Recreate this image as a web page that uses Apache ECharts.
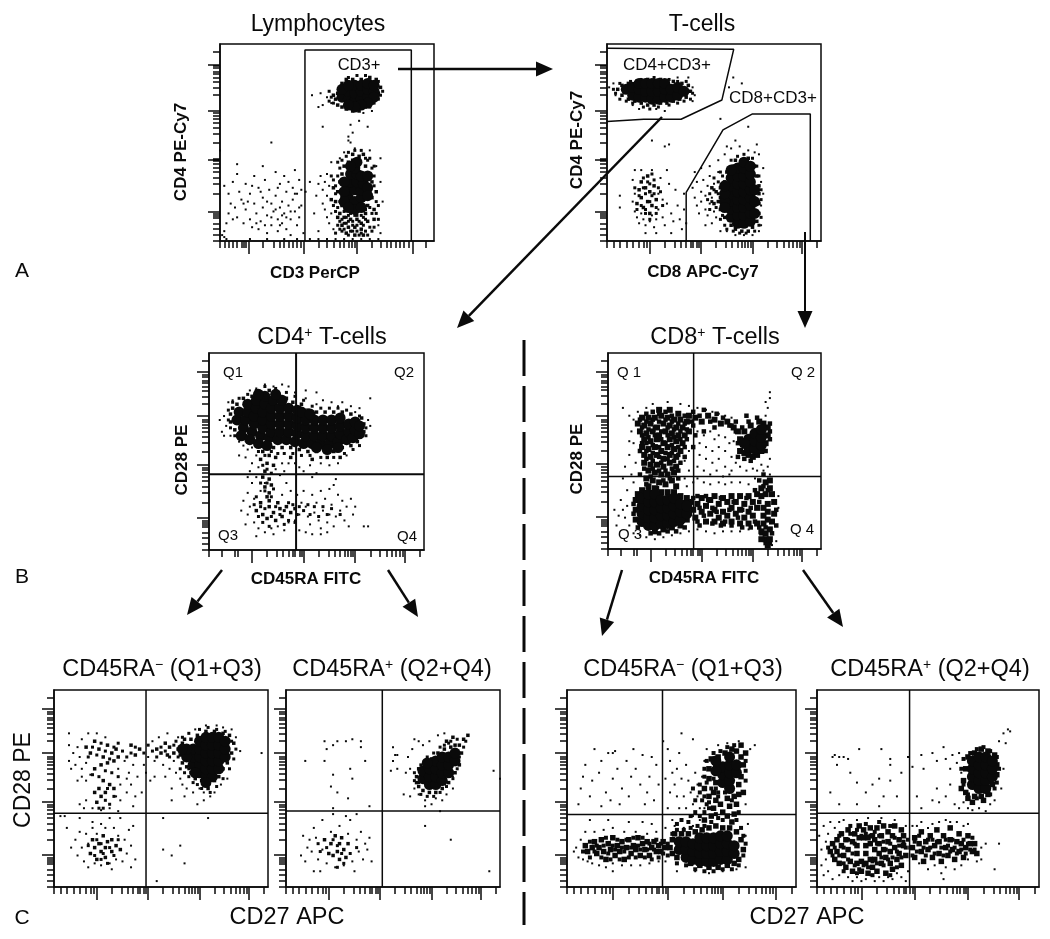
<!DOCTYPE html>
<html>
<head>
<meta charset="utf-8">
<title>T-cell gating</title>
<script src="https://cdn.jsdelivr.net/npm/echarts@6/dist/echarts.min.js"></script>
<style>
html, body { margin: 0; padding: 0; background: #fff; }
#main { width: 1050px; height: 939px; }
</style>
</head>
<body>
<div id="main"></div>
<script>

// Lymphocytes
const p1Core = [[57,73],[60,72],[60,76],[63,71],[63,75],[63,79],[66,72],[66,76],[66,79],[69,73],[69,77],[69,80],[72,76],[72,79],[57,77],[60,79],[72,73],[69,70],[66,69],[63,68],[60,69],[60,22],[63,20],[66,22],[60,26],[63,26],[66,26],[61,30],[64,30],[67,29],[61,34],[64,34],[66,33],[63,37],[58,30],[58,25],[69,33],[69,27],[69,23],[58,20],[63,16],[66,17],[60,17],[64,40],[61,38]];
const p1Mid = [[56,30],[57,34],[55,25],[57,22],[58,38],[60,40],[62,41],[65,40],[68,38],[70,34],[71,30],[70,26],[71,22],[69,18],[68,14],[65,16],[62,15],[59,16],[57,18],[56,14],[58,12],[61,11],[64,11],[66,9],[69,10],[72,11],[60,7],[63,7],[66,6],[57,8],[55,12],[63,3],[67,3],[59,4],[72,16],[73,25],[62,44],[65,43],[67,44],[53,27],[52,21],[54,20],[54,72],[55,69],[57,68],[59,67],[62,66],[65,66],[68,68],[71,70],[74,75],[75,78],[73,82],[70,83],[66,82],[62,82],[59,82],[57,80],[55,75],[53,74]];
const p1Fill = [[55,33],[56,37],[57,41],[59,43],[69,41],[71,37],[72,33],[72,28],[73,20],[71,14],[70,17],[68,16],[66,13],[63,13],[61,14],[58,15],[56,20],[55,17],[54,15],[56,10],[58,9],[60,13],[62,10],[64,8],[68,11],[70,7],[71,5],[68,5],[65,3],[62,5],[59,9],[57,5],[55,8],[54,4],[60,3],[64,5],[67,8],[72,7],[54,24],[53,31],[55,40],[56,6],[61,5],[66,4],[69,3],[73,14],[74,18],[74,11],[58,6],[65,10],[60,10],[67,12],[62,8],[64,13],[59,12],[57,11],[54,28],[52,33],[53,18],[72,38],[70,42],[66,46],[63,46],[60,45],[68,42],[51,71],[52,73],[53,70],[51,76],[75,74],[74,72],[72,70],[70,68],[76,76],[74,81],[68,84],[64,84],[60,83]];
const p1Dots = [[2,28],[4,24],[5,19],[4,14],[6,30],[7,17],[8,12],[9,25],[8,34],[10,21],[11,9],[12,16],[12,29],[14,24],[14,11],[15,7],[16,19],[16,33],[17,14],[18,27],[18,6],[19,10],[20,22],[20,17],[21,31],[22,13],[22,4],[23,26],[24,8],[24,19],[25,15],[26,35],[26,23],[27,11],[27,5],[28,29],[28,17],[29,20],[29,9],[30,33],[30,14],[31,25],[31,6],[32,18],[32,30],[33,11],[33,3],[34,21],[34,27],[35,36],[35,15],[36,8],[36,24],[37,12],[37,31],[38,18],[39,4],[38,26],[3,9],[2,5],[1,3],[2,2],[3,1],[20,38],[8,39],[24,50],[0,46],[45,23],[46,29],[44,14],[47,33],[48,19],[48,26],[49,16],[49,30],[50,23],[50,12],[51,28],[51,9],[52,14],[50,34],[46,5],[53,6],[42,30],[40,25],[47,75],[43,74],[48,69],[46,68],[50,73],[52,70],[61,59],[65,61],[69,58],[60,53],[48,58],[62,55],[61,50],[63,47],[60,51],[67,65],[71,66],[75,42],[75,30],[76,20],[74,8],[75,4],[56,42],[58,45],[70,46],[73,38],[52,40],[42,1],[46,1],[50,1],[54,1],[58,1],[62,1],[66,1],[70,1],[74,1],[22,1],[14,1],[30,1],[36,1],[13,20],[15,28],[19,25],[22,20],[26,16],[27,27],[31,12],[24,12],[17,9],[11,19],[6,11],[33,15],[35,24],[37,17],[21,8],[28,8],[29,13]];
const p1Gates = [[[39.7,0],[39.7,97],[89.4,97],[89.4,0]]];

// T-cells
const p2Core = [[9,77],[12,74],[12,78],[15,73],[15,77],[15,80],[18,73],[18,76],[18,80],[21,72],[21,76],[21,80],[24,72],[24,76],[24,80],[27,73],[27,77],[27,80],[30,73],[30,77],[33,74],[33,78],[36,76],[58,12],[58,16],[58,20],[58,24],[58,28],[58,32],[61,9],[61,13],[61,17],[61,21],[61,25],[61,29],[61,33],[61,37],[64,9],[64,13],[64,17],[64,21],[64,25],[64,29],[64,33],[64,37],[67,10],[67,14],[67,18],[67,22],[67,26],[67,30],[67,34],[55,20],[55,24],[55,17],[55,28],[69,20],[69,26],[69,14],[58,36],[64,40],[67,38]];
const p2Mid = [[5,77],[7,74],[7,79],[10,72],[13,71],[16,70],[19,69],[22,69],[25,70],[28,70],[31,71],[34,72],[37,73],[39,76],[38,79],[35,80],[31,81],[25,82],[19,82],[14,81],[10,80],[53,22],[53,27],[53,16],[55,12],[55,30],[56,35],[59,38],[60,41],[63,41],[66,42],[69,38],[70,33],[71,28],[71,24],[71,19],[71,14],[70,10],[68,7],[66,5],[63,5],[60,6],[58,8],[51,25],[52,20],[50,19],[49,27],[16,30],[18,27],[20,25],[16,22],[19,20],[21,18],[17,17],[20,14],[22,28],[15,26],[23,21],[19,33],[14,19]];
const p2Fill = [[4,75],[3,77],[6,72],[9,71],[12,70],[17,68],[20,67],[24,68],[29,69],[33,70],[36,71],[39,72],[40,75],[37,81],[33,81],[29,82],[22,83],[16,82],[11,81],[6,80],[17,27],[18,24],[20,29],[21,23],[15,23],[14,16],[16,18],[18,16],[20,20],[22,24],[23,17],[24,27],[17,32],[19,30],[21,34],[18,14],[20,11],[23,14],[25,25],[26,18],[13,27],[22,31],[48,24],[49,20],[50,26],[51,17],[52,30],[52,24],[50,32],[54,13],[53,11],[55,8],[54,33],[53,35],[56,6],[59,5],[62,4],[65,4],[69,5],[71,8],[72,12],[72,21],[72,26],[71,33],[70,38],[68,42],[64,44],[61,43],[58,41],[48,16],[47,21]];
const p2Dots = [[3,80],[1,78],[4,74],[40,78],[41,74],[40,71],[38,83],[33,83],[12,69],[23,67],[27,66],[15,67],[12,31],[13,24],[12,20],[13,15],[14,12],[15,9],[16,14],[17,11],[18,8],[20,10],[21,13],[22,7],[23,11],[24,16],[24,24],[25,32],[26,21],[26,12],[27,8],[28,19],[29,29],[30,14],[31,10],[28,36],[32,26],[33,18],[34,11],[36,16],[36,24],[35,6],[37,9],[30,4],[23,4],[18,4],[6,23],[6,17],[13,36],[21,36],[16,36],[40,27],[41,22],[42,18],[42,30],[43,14],[44,25],[44,20],[45,31],[46,16],[46,23],[47,28],[47,13],[48,19],[48,33],[49,22],[50,29],[50,15],[51,12],[41,35],[44,37],[48,38],[52,35],[52,41],[55,44],[58,47],[62,48],[66,46],[69,45],[70,49],[56,48],[60,51],[72,30],[72,18],[72,8],[71,5],[73,24],[68,3],[64,3],[60,3],[56,5],[53,5],[49,9],[46,8],[71,44],[73,37],[57,78],[59,83],[63,80],[66,58],[53,62],[27,48],[29,49],[21,51]];
const p2Gates = [[[0,97.8],[59.2,97.3],[53.7,71.6],[34.6,61.8],[17.1,61.8],[0,60.6]],[[37,0],[37,24.7],[54.2,56.4],[68,64.5],[95,64.5],[95,0]]];

// CD4+ T-cells
const p3Core = [[13,66],[14,70],[16,62],[17,66],[18,70],[18,74],[20,60],[21,64],[21,68],[22,72],[22,76],[24,58],[25,62],[25,66],[25,70],[26,74],[26,78],[28,57],[29,60],[29,64],[29,68],[29,72],[30,76],[32,56],[33,60],[33,64],[33,68],[33,72],[34,76],[36,56],[37,60],[37,64],[37,68],[37,72],[40,55],[41,59],[41,63],[41,67],[41,71],[44,54],[45,58],[45,62],[45,66],[48,54],[49,58],[49,62],[49,66],[52,54],[53,58],[53,62],[53,66],[56,54],[57,58],[57,62],[57,66],[60,55],[61,59],[61,63],[61,67],[64,56],[65,60],[65,64],[67,57],[68,61],[68,65],[70,59],[70,63],[15,58],[19,56],[23,54],[27,53],[43,70],[47,69],[50,52],[55,51],[60,52],[31,79],[23,79]];
const p3Mid = [[11,72],[10,69],[10,65],[12,61],[14,59],[17,58],[20,56],[23,55],[27,53],[30,52],[34,52],[38,52],[42,51],[46,50],[50,50],[54,50],[58,50],[62,52],[66,53],[69,55],[72,60],[72,64],[71,67],[66,69],[62,70],[58,70],[54,70],[50,70],[46,71],[43,74],[39,75],[36,77],[32,79],[28,81],[24,80],[20,78],[16,77],[13,74],[25,50],[28,48],[31,47],[24,46],[27,44],[30,43],[26,40],[25,37],[28,36],[29,33],[26,32],[28,29],[27,27],[38,47],[48,46],[55,47],[61,47],[22,20],[25,18],[28,22],[30,19],[33,21],[27,16],[31,15],[34,17],[36,22],[38,19],[40,21],[24,24],[28,25],[32,24]];
const p3Fill = [[23,50],[26,48],[29,50],[32,49],[35,49],[39,49],[43,48],[47,48],[52,47],[58,47],[63,49],[67,51],[70,53],[73,58],[73,62],[70,68],[64,71],[60,72],[56,72],[52,72],[48,73],[44,76],[40,78],[36,80],[31,82],[26,83],[22,81],[18,79],[14,77],[11,75],[9,71],[9,66],[10,62],[12,58],[25,43],[27,41],[29,39],[24,34],[27,34],[26,30],[29,27],[30,31],[22,27],[24,22],[26,21],[29,17],[31,22],[33,18],[35,20],[37,24],[37,15],[39,23],[41,18],[40,14],[25,14],[28,12],[23,17],[21,23],[35,13],[42,22],[44,20],[46,23],[49,22],[53,22],[57,21],[61,18],[47,18],[51,17],[55,18]];
const p3Dots = [[5,66],[6,60],[8,63],[7,68],[9,75],[11,76],[7,58],[10,58],[14,55],[16,53],[18,51],[20,52],[22,48],[17,47],[14,48],[20,44],[23,42],[19,40],[22,37],[18,37],[31,41],[34,44],[37,44],[35,40],[33,38],[40,44],[42,42],[44,40],[47,43],[52,44],[56,43],[60,44],[64,48],[50,39],[48,37],[30,83],[26,84],[22,82],[19,81],[34,84],[37,83],[40,80],[45,77],[50,74],[53,76],[57,75],[60,73],[62,75],[66,73],[68,70],[70,72],[75,77],[50,80],[45,81],[74,66],[75,63],[20,34],[26,34],[24,30],[18,29],[16,25],[19,22],[21,14],[18,18],[17,13],[23,11],[26,9],[29,11],[32,12],[35,10],[37,14],[40,15],[42,18],[43,24],[45,22],[46,17],[47,13],[49,19],[50,24],[51,15],[52,11],[53,20],[54,26],[55,14],[56,18],[57,23],[58,12],[59,17],[60,28],[61,20],[62,25],[63,15],[64,22],[65,12],[66,26],[67,18],[68,22],[42,10],[45,9],[48,8],[52,8],[55,9],[58,33],[56,31],[59,36],[38,30],[41,28],[44,30],[48,28],[52,30],[34,28],[36,34],[21,26],[15,20],[22,7],[30,8],[72,12],[74,12]];
const p3Gates = [[[0,38.5],[100,38.5]],[[40.5,0],[40.5,100]]];

// CD8+ T-cells
const p4Core = [[16,14],[16,18],[16,22],[16,26],[19,12],[19,16],[19,20],[19,24],[19,28],[22,12],[22,16],[22,20],[22,24],[22,28],[25,13],[25,17],[25,21],[25,25],[28,13],[28,17],[28,21],[28,25],[31,14],[31,18],[31,22],[31,26],[34,15],[34,19],[34,23],[37,18],[37,22],[66,52],[66,56],[69,51],[69,55],[69,59],[72,53],[72,57],[72,61],[64,54]];
const p4Mid = [[13,15],[13,20],[13,25],[14,28],[16,30],[19,32],[22,31],[25,29],[28,29],[31,29],[34,27],[37,26],[39,24],[40,20],[41,16],[37,15],[34,12],[30,11],[26,10],[22,9],[42,23],[44,19],[44,26],[46,14],[46,22],[48,18],[48,25],[50,14],[50,27],[52,16],[52,23],[54,13],[54,26],[56,17],[56,24],[58,14],[58,27],[60,18],[60,24],[62,13],[62,27],[64,16],[64,23],[66,13],[66,27],[68,17],[68,24],[70,13],[70,21],[70,28],[72,9],[74,8],[76,10],[77,14],[78,18],[78,24],[77,28],[76,31],[74,28],[72,27],[72,31],[74,34],[76,35],[74,5],[76,5],[75,2],[72,5],[18,36],[21,35],[24,34],[27,33],[30,35],[32,32],[19,40],[22,39],[25,38],[28,38],[31,39],[17,44],[20,43],[23,43],[26,42],[29,44],[32,42],[17,48],[20,47],[23,48],[26,46],[29,48],[32,47],[16,52],[19,51],[22,52],[25,50],[28,52],[31,51],[34,50],[17,56],[20,55],[23,56],[26,54],[29,56],[32,55],[35,54],[15,60],[18,59],[21,60],[24,58],[27,60],[30,59],[33,58],[36,58],[14,64],[17,63],[20,64],[23,62],[26,64],[29,63],[32,62],[35,62],[38,60],[16,67],[19,67],[22,67],[25,68],[28,67],[31,66],[34,66],[37,65],[24,71],[29,71],[33,69],[38,68],[41,67],[44,65],[47,68],[50,66],[53,64],[56,65],[59,62],[61,60],[62,56],[62,50],[64,49],[66,48],[68,47],[70,48],[72,50],[74,54],[75,58],[75,62],[73,64],[71,65],[67,63],[64,60],[73,13],[73,17],[73,21],[75,15],[75,19],[75,23],[50,20],[54,19],[58,21],[62,20],[66,19]];
const p4Fill = [[18,33],[20,37],[23,31],[26,35],[29,36],[33,36],[15,38],[17,41],[21,41],[24,40],[27,40],[30,41],[33,40],[18,46],[21,45],[25,44],[28,46],[31,45],[34,44],[15,50],[18,50],[21,49],[24,47],[27,49],[30,49],[33,48],[36,47],[16,54],[18,54],[21,53],[24,52],[27,54],[30,53],[33,52],[36,52],[16,58],[19,57],[22,58],[25,56],[28,58],[31,57],[34,56],[37,56],[16,62],[19,61],[22,62],[25,60],[28,62],[31,61],[34,60],[37,61],[40,63],[15,66],[18,65],[21,66],[24,65],[27,66],[30,65],[33,64],[36,64],[39,65],[18,69],[21,70],[24,69],[27,70],[30,68],[36,68],[40,70],[43,68],[45,71],[48,65],[51,69],[54,67],[57,63],[60,65],[43,21],[45,17],[47,25],[49,21],[51,19],[53,26],[55,14],[57,20],[59,24],[61,16],[63,20],[65,26],[67,21],[69,14],[71,24],[46,27],[49,13],[53,12],[58,12],[63,11],[67,11],[71,11],[69,30],[71,35],[73,32],[75,30],[73,38],[72,8],[74,11],[77,8],[76,3],[79,12],[79,20],[74,3],[42,27],[40,26],[42,14],[43,12],[36,11],[32,9],[28,9],[24,8],[20,8],[14,11],[12,18],[12,23],[63,53],[61,54],[61,47],[64,46],[67,45],[74,50],[76,56],[76,60],[76,64],[70,67],[66,65],[63,62],[60,60],[58,63],[65,68],[50,62],[45,60],[41,58],[40,52]];
const p4Dots = [[7,36],[8,42],[9,30],[10,48],[11,38],[12,54],[11,60],[10,55],[12,34],[13,44],[9,22],[8,16],[7,20],[5,17],[10,12],[12,8],[15,7],[18,6],[22,5],[26,6],[30,7],[34,8],[38,9],[42,10],[46,9],[50,8],[54,9],[58,9],[62,9],[66,10],[14,70],[12,66],[18,72],[21,74],[28,75],[34,74],[38,73],[42,72],[46,71],[49,70],[52,69],[55,68],[58,67],[10,68],[7,72],[42,60],[45,58],[48,60],[50,56],[52,58],[55,57],[57,54],[59,55],[43,54],[46,52],[49,50],[52,52],[55,50],[58,47],[60,44],[43,48],[46,46],[49,44],[52,46],[55,42],[58,40],[42,42],[45,40],[48,38],[51,40],[54,37],[57,38],[62,42],[65,40],[68,41],[70,40],[72,43],[42,36],[45,34],[48,33],[52,34],[55,33],[58,34],[62,34],[66,33],[69,36],[36,36],[38,40],[36,45],[38,50],[40,34],[37,32],[73,40],[76,38],[75,42],[76,46],[74,68],[75,72],[76,77],[74,75],[76,80],[6,25],[4,12],[3,20],[79,4],[77,2],[80,21],[80,27]];
const p4Gates = [[[0,37],[100,37]],[[40.2,0],[40.2,100]]];

// CD45RA- (Q1+Q3), CD4
const p5Core = [[65,62],[65,66],[65,70],[68,58],[68,62],[68,66],[68,70],[68,74],[71,56],[71,60],[71,64],[71,68],[71,72],[71,76],[74,56],[74,60],[74,64],[74,68],[74,72],[74,76],[77,60],[77,64],[77,68],[77,72],[77,76],[80,66],[80,70],[80,74],[62,66],[62,70],[60,70],[66,58],[71,53]];
const p5Mid = [[58,70],[59,67],[60,73],[60,63],[62,61],[64,58],[66,55],[69,54],[72,50],[75,54],[77,56],[79,60],[81,63],[83,68],[84,73],[82,77],[79,78],[75,79],[71,79],[67,77],[64,75],[61,75],[56,68],[54,71],[53,67],[52,73],[50,68],[48,70],[15,71],[17,68],[19,74],[21,70],[23,66],[25,72],[27,68],[29,70],[22,62],[25,63],[28,64],[30,66],[19,60],[40,70],[38,67],[36,72],[23,54],[21,50],[19,48],[22,46],[20,43],[24,48],[26,52],[28,50],[24,20],[22,18],[25,23],[21,22],[24,15],[27,18],[19,20],[27,24],[17,17],[29,21],[23,26],[18,24],[20,14],[31,19]];
const p5Fill = [[16,66],[18,71],[20,67],[22,73],[24,69],[26,65],[28,71],[30,73],[32,69],[34,66],[36,68],[38,71],[42,68],[44,72],[46,69],[48,66],[50,71],[52,69],[54,66],[56,72],[58,66],[18,57],[21,56],[24,59],[27,58],[30,56],[24,44],[26,42],[28,46],[23,40],[21,40],[25,50],[20,24],[22,22],[26,20],[28,16],[25,12],[22,14],[30,24],[23,17],[19,16],[16,21],[63,56],[65,53],[67,52],[69,50],[73,48],[76,51],[79,55],[82,60],[84,65],[85,70],[83,74],[80,79],[76,80],[72,81],[68,80],[63,78],[60,76],[57,74],[63,60],[61,58],[59,60]];
const p5Dots = [[7,78],[7,72],[7,64],[9,68],[11,71],[12,66],[13,75],[16,78],[20,78],[24,76],[10,62],[8,60],[13,60],[15,63],[13,56],[11,54],[15,54],[17,57],[30,60],[33,64],[35,58],[31,52],[34,55],[37,62],[39,56],[29,46],[31,44],[34,48],[36,52],[38,46],[41,48],[12,42],[15,44],[18,40],[22,39],[26,40],[30,38.5],[14,40],[37,41],[42,62],[44,66],[46,74],[47,64],[49,76],[51,62],[53,78],[54,60],[56,64],[58,76],[57,58],[59,55],[60,52],[62,50],[65,48],[68,50],[70,48],[73,46],[55,50],[52,56],[47,56],[45,54],[43,58],[75,48],[78,52],[81,55],[70,44],[67,42],[61,46],[55,44],[85,76],[87,69],[83,80],[79,81],[76,82],[71,82],[66,80],[97,68],[6,30],[8,20],[10,24],[11,16],[12,28],[13,20],[14,13],[15,27],[16,10],[16,22],[18,30],[19,12],[20,27],[22,32],[22,11],[24,30],[26,12],[27,9],[28,30],[29,14],[30,26],[32,13],[33,24],[34,17],[35,29],[36,21],[37,31],[38,14],[18,33],[26,35],[31,35],[12,35],[5,36],[3,36],[51,19],[55,16],[59,21],[61,12],[72,35],[51,35],[48,3],[36,10]];
const p5Gates = [[[0,37.5],[100,37.5]],[[43,0],[43,100]]];

// CD45RA+ (Q2+Q4), CD4
const p6Core = [[64,55],[64,59],[67,52],[67,56],[67,60],[70,52],[70,56],[70,60],[70,64],[73,54],[73,58],[73,62],[73,66],[76,58],[76,62],[76,66],[79,64],[79,68],[66,63]];
const p6Mid = [[61,56],[61,53],[62,51],[64,49],[67,48],[70,48],[73,50],[76,53],[79,58],[81,62],[82,68],[81,72],[83,75],[85,77],[79,72],[77,71],[74,70],[71,68],[68,65],[65,63],[62,60],[75,74],[78,76],[18,24],[21,22],[23,26],[25,22],[27,19],[24,18],[22,16],[26,25],[29,22],[20,17],[25,14],[28,15]];
const p6Fill = [[60,54],[60,58],[63,62],[66,66],[69,68],[72,71],[76,73],[80,75],[84,74],[83,71],[81,66],[80,60],[78,55],[75,51],[72,48],[69,46],[66,46],[63,47],[62,53],[74,72],[77,74],[16,18],[19,20],[22,24],[24,21],[26,17],[30,17],[33,20],[15,22],[27,12],[24,10]];
const p6Dots = [[18,74],[19,70],[22,72],[24,74],[28,74],[31,75],[35,74],[35,71],[18,64],[9,64],[22,57],[30,60],[37,64],[31,55],[21,51],[24,48],[29,45],[39,41],[22,40],[11,24],[8,26],[7,16],[9,13],[10,20],[12,18],[13,8],[14,25],[15,14],[16,8],[17,19],[19,12],[21,28],[23,10],[25,31],[27,11],[29,27],[31,13],[32,8],[33,24],[34,18],[35,28],[36,14],[37,22],[38,19],[39,25],[40,13],[13,30],[17,34],[22,37],[28,36],[33,37],[30,34],[50,64],[51,67],[50,71],[52,67],[56,58],[57,66],[59,70],[60,75],[62,74],[64,72],[67,74],[71,77],[74,78],[58,60],[60,50],[58,46],[62,47],[65,44],[68,42],[70,45],[73,44],[75,47],[78,50],[78,56],[55,47],[65,41],[72,38.5],[65,31],[77,24],[95,8],[97,59],[100,55],[49,59],[52,60]];
const p6Gates = [[[0,38.6],[100,38.6]],[[45,0],[45,100]]];

// CD45RA- (Q1+Q3), CD8
const p7Core = [[49,19],[49,23],[52,15],[52,19],[52,23],[55,14],[55,18],[55,22],[58,13],[58,17],[58,21],[58,25],[61,13],[61,17],[61,21],[61,25],[64,13],[64,17],[64,21],[64,25],[67,14],[67,18],[67,22],[67,26],[70,14],[70,18],[70,22],[70,26],[73,17],[73,21],[68,53],[68,57],[68,61],[71,50],[71,54],[71,58],[71,62],[71,66],[74,58],[74,62],[65,59],[65,64]];
const p7Mid = [[45,20],[46,24],[46,17],[48,15],[47,27],[50,27],[53,27],[56,28],[59,29],[62,30],[65,31],[68,30],[71,30],[74,28],[76,24],[77,19],[75,14],[73,12],[70,11],[66,10],[62,10],[58,11],[54,12],[72,33],[70,36],[73,37],[68,38],[71,41],[74,42],[67,42],[70,45],[73,46],[65,44],[75,47],[63,36],[60,34],[64,40],[62,46],[60,50],[64,48],[62,55],[65,53],[62,60],[65,62],[63,65],[66,66],[69,68],[72,70],[74,69],[76,66],[77,62],[76,56],[75,52],[77,48],[76,72],[78,68],[8,21],[9,18],[11,20],[12,23],[13,17],[14,20],[15,24],[16,18],[17,14],[18,22],[19,19],[20,25],[21,16],[22,21],[23,18],[24,23],[25,14],[26,20],[27,24],[28,17],[29,21],[30,19],[31,25],[32,16],[33,22],[34,19],[35,23],[36,16],[37,20],[38,23],[39,18],[40,21],[41,18],[42,23],[43,20]];
const p7Fill = [[7,18],[10,23],[10,15],[12,18],[13,21],[15,15],[16,21],[17,25],[18,17],[19,14],[20,21],[21,19],[22,24],[23,14],[24,20],[25,18],[26,24],[27,15],[28,20],[29,25],[30,15],[31,21],[32,19],[33,25],[34,15],[35,19],[36,22],[37,14],[38,19],[39,24],[40,15],[41,22],[42,17],[44,22],[44,16],[46,27],[48,29],[51,29],[54,30],[57,31],[60,31],[63,33],[66,35],[68,34],[65,37],[62,40],[60,38],[58,36],[59,44],[61,42],[66,46],[69,48],[72,44],[75,38],[74,34],[76,30],[77,26],[78,22],[77,16],[75,11],[72,9],[68,9],[64,8],[60,8],[56,9],[52,11],[48,12],[63,50],[61,53],[60,56],[60,60],[61,64],[64,68],[67,69],[70,71],[73,72],[78,64],[78,59],[78,54],[60,46],[62,43],[64,55],[65,50],[66,48],[58,52],[58,48],[56,38],[54,36],[53,33],[56,44],[55,50],[50,34],[48,32]];
const p7Dots = [[4,20],[5,15],[6,24],[7,14],[3,18],[9,13],[11,12],[14,11],[17,10],[20,12],[24,11],[28,11],[32,11],[36,12],[40,13],[43,13],[8,28],[12,28],[16,29],[20,30],[25,28],[30,28],[35,27],[39,28],[10,34],[18,34],[27,33],[33,33],[37,32],[5,42],[6,50],[7,56],[8,62],[10,46],[11,54],[12,70],[14,58],[15,64],[17,48],[18,68],[19,44],[20,55],[21,69],[22,60],[23,42],[24,50],[26,64],[27,46],[28,56],[29,70],[30,60],[32,52],[33,67],[34,42],[35,48],[36,56],[37,66],[38,44],[39,62],[40,52],[20,68],[15,41],[44,70],[45,64],[46,58],[47,52],[48,46],[49,40],[50,34],[44,40],[46,34],[45,48],[48,60],[49,68],[50,55],[51,46],[52,40],[53,33],[52,62],[53,54],[54,48],[55,42],[55,36],[56,58],[57,52],[57,46],[58,40],[58,34],[59,44],[59,56],[60,64],[60,40],[61,70],[43,55],[43,30],[47,31],[51,30],[55,31],[78,42],[79,32],[78,26],[66,72],[70,73],[75,74],[80,70],[82,72],[55,75],[50,78],[42,74],[78,10],[74,9],[68,8],[62,7],[56,8],[48,8],[20,8]];
const p7Gates = [[[0,36.8],[100,36.8]],[[41.7,0],[41.7,100]]];

// CD45RA+ (Q2+Q4), CD8
const p8Core = [[70,52],[70,56],[70,60],[70,64],[73,50],[73,54],[73,58],[73,62],[73,66],[76,50],[76,54],[76,58],[76,62],[76,66],[79,56],[79,60],[79,64]];
const p8Mid = [[67,48],[66,54],[67,60],[68,66],[71,68],[74,70],[77,69],[80,67],[81,62],[81,57],[79,52],[77,47],[74,46],[71,46],[68,45],[70,43],[75,44],[65,50],[6,18],[7,22],[8,14],[9,24],[9,18],[10,12],[11,21],[11,27],[12,16],[13,10],[13,24],[14,29],[15,13],[16,23],[16,8],[17,27],[18,12],[19,31],[19,25],[20,13],[20,8],[21,25],[21,29],[22,12],[23,25],[23,7],[24,14],[24,22],[24,30],[25,10],[25,26],[26,14],[26,24],[27,30],[27,8],[28,17],[28,22],[29,12],[29,26],[30,19],[30,31],[31,15],[31,7],[32,23],[32,28],[33,12],[33,18],[34,26],[34,9],[35,20],[35,31],[36,14],[37,24],[37,17],[38,29],[38,11],[39,21],[39,26],[40,16],[43,20],[44,25],[44,15],[46,22],[47,28],[47,18],[48,13],[49,23],[50,19],[51,26],[52,15],[53,21],[54,29],[55,17],[55,23],[56,13],[57,26],[58,20],[59,16],[60,24],[60,30],[61,19],[62,14],[63,23],[64,27],[64,18],[65,22],[66,15],[67,20],[68,26],[69,22],[70,18],[71,22],[72,17],[14,19],[18,17],[18,21],[22,17],[22,21],[26,19]];
const p8Fill = [[5,20],[7,16],[8,20],[10,16],[10,26],[12,20],[12,12],[14,14],[14,24],[15,27],[16,17],[17,11],[17,22],[18,29],[19,9],[20,26],[21,11],[22,27],[23,10],[24,26],[25,13],[26,28],[27,12],[27,22],[28,26],[29,15],[30,23],[30,11],[31,19],[32,14],[33,22],[34,15],[35,25],[36,18],[36,10],[37,21],[38,15],[39,23],[40,20],[41,24],[15,31],[22,32],[28,33],[33,31],[12,8],[18,7],[25,6],[33,6],[42,20],[43,16],[44,23],[45,18],[46,26],[48,20],[49,16],[50,24],[51,20],[52,24],[53,17],[54,23],[56,20],[57,16],[58,24],[59,21],[60,18],[61,24],[62,20],[63,17],[65,19],[66,24],[67,17],[68,22],[69,19],[70,25],[71,19],[66,65],[65,60],[66,52],[68,47],[72,45],[78,47],[80,50],[81,53],[82,60],[81,66],[78,69],[75,71],[72,70],[69,68]];
const p8Dots = [[1,26],[2,19],[2,11],[3,31],[3,6],[4,23],[4,14],[5,27],[5,8],[6,33],[7,4],[8,30],[10,33],[10,6],[12,34],[14,5],[16,3],[18,5],[20,3],[22,4],[24,6],[26,3],[28,5],[30,3],[32,5],[34,4],[36,7],[38,5],[18,34],[23,35],[29,35],[35,34],[40,31],[41,8],[40,3],[43,31],[45,31],[47,33],[50,30],[52,32],[55,33],[58,34],[60,33],[63,33],[66,31],[68,32],[46,12],[50,9],[53,11],[56,7],[58,10],[62,9],[65,11],[57,4],[68,14],[72,13],[74,20],[74,14],[76,22],[82,22],[80,9],[7,66],[8,67],[10,66],[12,66],[14,65],[9,62],[15,58],[18,53],[6,48],[10,42],[18,42],[22,48],[25,52],[28,55],[33,54],[36,46],[30,46],[28,41],[19,70],[29,70],[33,65],[33,62],[38,58],[41,66],[43,61],[47,67],[48,60],[52,68],[54,64],[57,71],[58,65],[60,60],[61,67],[63,63],[64,68],[65,58],[45,46],[47,40],[52,44],[54,50],[55,43],[58,46],[60,52],[62,42],[64,40],[66,43],[68,40],[70,39],[73,40],[76,38.5],[78,42],[80,44],[83,50],[84,60],[82,74],[85,73],[84,78],[86,80],[87,79]];
const p8Gates = [[[0,37.4],[100,37.4]],[[41.7,0],[41.7,100]]];

// tick positions on the biexponential/log scales
const xMajorP1 = [13.5, 39, 64, 90];
const xMinorP1 = [0, 2, 4, 6, 8, 10, 11, 12, 20, 25, 28, 30, 32, 34, 36, 37.5, 46, 50, 53, 56, 58, 60, 61.5, 63, 71, 75, 78, 80, 82, 84, 86, 88, 96];
const xMajor = [20, 44, 68, 91];
const xMinorDense = [0, 3, 6, 9, 12, 15, 17, 18.5, 27, 31.5, 34.5, 37, 39, 40, 42, 43, 51, 55.5, 58.5, 61, 63, 64.5, 66, 67, 75, 79.5, 82.5, 85, 87, 88.5, 90, 98];
const xMinorSparse = [0, 6, 12, 13.5, 27, 31.5, 34.5, 37, 39, 40, 42, 43, 51, 55.5, 58.5, 61, 63, 64.5, 66, 67, 75, 79.5, 82.5, 85, 87, 88.5, 90, 98];
const yMajorTop = [15, 41, 66, 89.5];
const yMajor = [16.5, 43.5, 68, 90.5];
const yMinor = [0, 3, 6, 9, 12, 13, 14, 15, 24, 29, 32, 35, 37, 39, 40.5, 42, 50, 54.5, 57.5, 60, 62, 63.5, 65, 66, 74, 78, 81, 83, 85, 86, 88, 89, 96];

const panelBoxes = [[220, 44, 214, 197], [607, 44, 214, 197], [209, 353, 215, 197], [608, 353, 213, 196], [54, 690, 214, 197], [286, 690, 214, 197], [567, 690, 229, 197], [817, 690, 222, 197]];
const coreSets = [p1Core, p2Core, p3Core, p4Core, p5Core, p6Core, p7Core, p8Core];
const midSets = [p1Mid, p2Mid, p3Mid, p4Mid, p5Mid, p6Mid, p7Mid, p8Mid];
const fillSets = [p1Fill, p2Fill, p3Fill, p4Fill, p5Fill, p6Fill, p7Fill, p8Fill];
const dotSets = [p1Dots, p2Dots, p3Dots, p4Dots, p5Dots, p6Dots, p7Dots, p8Dots];
const gateSets = [p1Gates, p2Gates, p3Gates, p4Gates, p5Gates, p6Gates, p7Gates, p8Gates];
const gateWidths = [1.5, 1.5, 2, 1.5, 1.5, 1.5, 1.5, 1.5];
const midSizes = [3.5, 3.5, 3.5, 6, 3.5, 3.5, 5.5, 5.5];
const fillSizes = [3, 3, 3, 4.5, 3, 3, 4, 4];

const BLACK = '#0a0a0a';

function tickAxis(gridIndex, position, values, len, withLine) {
    return {
        type: 'value',
        gridIndex: gridIndex,
        position: position,
        min: 0,
        max: 100,
        splitLine: {show: false},
        axisLabel: {show: false},
        axisLine: {show: withLine, onZero: false, lineStyle: {color: BLACK, width: 1.5}},
        axisTick: {show: true, length: len, customValues: values, lineStyle: {color: BLACK, width: 1.5}}
    };
}

let grids = [], xAxes = [], yAxes = [], seriesList = [];

panelBoxes.forEach((box, i) => {
    grids.push({left: box[0], top: box[1], width: box[2], height: box[3], show: true, borderColor: BLACK, borderWidth: 1.5, backgroundColor: 'transparent'});
    let xM = i === 0 ? xMajorP1 : xMajor;
    let xm = i === 0 ? xMinorP1 : (i === 2 || i === 3 ? xMinorSparse : xMinorDense);
    let yM = i < 2 ? yMajorTop : yMajor;
    xAxes.push(tickAxis(i, 'bottom', xM, 13, true), tickAxis(i, 'bottom', xm, 7, false));
    yAxes.push(tickAxis(i, 'left', yM, 12, true), tickAxis(i, 'left', yMinor, 7, false));
    let ax = i * 2;
    seriesList.push({type: 'scatter', xAxisIndex: ax, yAxisIndex: ax, data: dotSets[i], symbol: 'rect', symbolSize: 2, itemStyle: {color: BLACK, opacity: 1}, silent: true});
    seriesList.push({type: 'scatter', xAxisIndex: ax, yAxisIndex: ax, data: fillSets[i], symbol: 'rect', symbolSize: fillSizes[i], itemStyle: {color: BLACK, opacity: 1}, silent: true});
    seriesList.push({type: 'scatter', xAxisIndex: ax, yAxisIndex: ax, data: midSets[i], symbol: 'rect', symbolSize: midSizes[i], itemStyle: {color: BLACK, opacity: 1}, silent: true});
    seriesList.push({type: 'scatter', xAxisIndex: ax, yAxisIndex: ax, data: coreSets[i], symbol: 'circle', symbolSize: 11, itemStyle: {color: BLACK, opacity: 1}, silent: true});
    gateSets[i].forEach(g => {
        seriesList.push({type: 'line', xAxisIndex: ax, yAxisIndex: ax, data: g, symbol: 'none', lineStyle: {color: BLACK, width: gateWidths[i]}, silent: true, z: 5});
    });
});

function txt(text, x, y, size, opts) {
    opts = opts || {};
    return {
        type: 'text', x: x, y: y, rotation: opts.rot || 0, z: 20, silent: true,
        style: {
            text: text, align: 'center', verticalAlign: 'middle', fill: BLACK,
            font: (opts.bold ? 'bold ' : '') + size + 'px "Liberation Sans", Arial, sans-serif',
            rich: opts.rich
        }
    };
}

function arrow(x1, y1, x2, y2, w) {
    let a = Math.atan2(y2 - y1, x2 - x1), h = 17, s = 7.5;
    let bx = x2 - h * Math.cos(a), by = y2 - h * Math.sin(a);
    return [
        {type: 'line', z: 15, silent: true, shape: {x1: x1, y1: y1, x2: bx, y2: by}, style: {stroke: BLACK, lineWidth: w}},
        {type: 'polygon', z: 15, silent: true, shape: {points: [[x2, y2], [bx + s * Math.sin(a), by - s * Math.cos(a)], [bx - s * Math.sin(a), by + s * Math.cos(a)]]}, style: {fill: BLACK}}
    ];
}

function supRich(size, supSize) {
    return {
        a: {fontSize: size, fontFamily: 'Liberation Sans', fill: BLACK, color: BLACK},
        s: {fontSize: supSize, fontFamily: 'Liberation Sans', fill: BLACK, color: BLACK, verticalAlign: 'top', lineHeight: size}
    };
}

const r22 = supRich(23.5, 14);
const VERT = Math.PI / 2;

let graphics = [
    txt('Lymphocytes', 318, 25, 23),
    txt('T-cells', 702, 25, 23),
    txt('{a|CD4}{s|+}{a| T-cells}', 322, 338, 23, {rich: r22}),
    txt('{a|CD8}{s|+}{a| T-cells}', 715, 338, 23, {rich: r22}),
    txt('{a|CD45RA}{s|\u2212}{a| (Q1+Q3)}', 162, 670, 23.5, {rich: r22}),
    txt('{a|CD45RA}{s|+}{a| (Q2+Q4)}', 392, 670, 23.5, {rich: r22}),
    txt('{a|CD45RA}{s|\u2212}{a| (Q1+Q3)}', 683, 670, 23.5, {rich: r22}),
    txt('{a|CD45RA}{s|+}{a| (Q2+Q4)}', 930, 670, 23.5, {rich: r22}),
    txt('CD3 PerCP', 315, 273, 17, {bold: true}),
    txt('CD8 APC-Cy7', 703, 272, 17, {bold: true}),
    txt('CD45RA FITC', 306, 579, 17, {bold: true}),
    txt('CD45RA FITC', 704, 578, 17, {bold: true}),
    txt('CD4 PE-Cy7', 181, 152, 17, {bold: true, rot: VERT}),
    txt('CD4 PE-Cy7', 577, 140, 17, {bold: true, rot: VERT}),
    txt('CD28 PE', 182, 460, 17, {bold: true, rot: VERT}),
    txt('CD28 PE', 577, 459, 17, {bold: true, rot: VERT}),
    txt('CD28 PE', 24, 780, 23, {rot: VERT}),
    txt('CD27 APC', 287, 918, 23.5),
    txt('CD27 APC', 807, 918, 23.5),
    txt('CD3+', 359, 65, 16.5),
    txt('CD4+CD3+', 667, 65, 17),
    txt('CD8+CD3+', 773, 98, 17),
    txt('Q1', 233, 373, 15),
    txt('Q2', 404, 373, 15),
    txt('Q3', 228, 536, 15),
    txt('Q4', 407, 537, 15),
    txt('Q 1', 629, 373, 15),
    txt('Q 2', 803, 373, 15),
    txt('Q 3', 630, 535, 15),
    txt('Q 4', 802, 530, 15),
    txt('A', 22, 271, 21),
    txt('B', 22, 577, 21),
    txt('C', 22, 918, 21),
    // dashed divider between CD4 and CD8 columns
    {type: 'line', z: 15, silent: true, shape: {x1: 524, y1: 340, x2: 524, y2: 925}, style: {stroke: BLACK, lineWidth: 3, lineDash: [36, 10]}}
];

graphics = graphics.concat(
    arrow(398, 69, 553, 69, 2.5),
    arrow(662, 117, 457, 328, 2.5),
    arrow(805, 232, 805, 328, 2),
    arrow(222, 570, 187, 615, 2.5),
    arrow(388, 570, 418, 617, 2.5),
    arrow(622, 570, 602, 636, 2.5),
    arrow(803, 570, 843, 627, 2.5)
);

const chart = echarts.init(document.getElementById('main'), null, {renderer: 'canvas'});
chart.setOption({
    animation: false,
    backgroundColor: '#fff',
    grid: grids,
    xAxis: xAxes,
    yAxis: yAxes,
    series: seriesList,
    graphic: {elements: graphics}
});
</script>
</body>
</html>
